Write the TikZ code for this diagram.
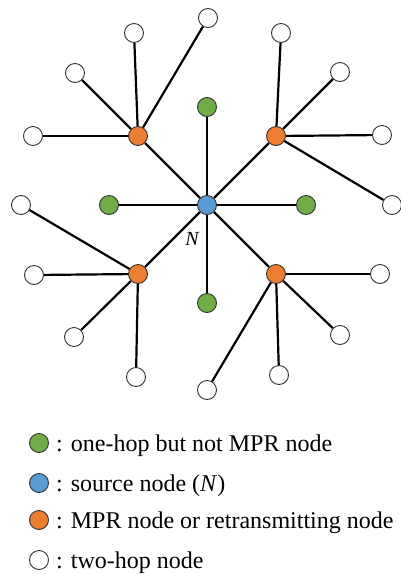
\documentclass[tikz,border=0pt]{standalone}
\usepackage{fontspec}
\setmainfont{Liberation Serif}
\newfontfamily\legfont{Liberation Serif}
\begin{document}
\begin{tikzpicture}[x=1pt,y=-1pt,
  nd/.style={circle,draw=black!80,line width=0.9pt,minimum size=19pt,inner sep=0pt},
  gnode/.style={nd,fill=greenc},
  bnode/.style={nd,fill=bluec},
  onode/.style={nd,fill=orangec},
  wnode/.style={nd,fill=white},
  edge/.style={line width=2.2pt,black},
  leg/.style={anchor=base west,inner sep=0pt,font=\legfont\fontsize{24}{28}\selectfont}]
\definecolor{greenc}{HTML}{70AD47}
\definecolor{bluec}{HTML}{5B9BD5}
\definecolor{orangec}{HTML}{ED7D31}
\useasboundingbox (0,0) rectangle (401,574);
% center and one-hop
\node[bnode] (c) at (207,205) {};
\node[gnode] (gt) at (207,107) {};
\node[gnode] (gl) at (109,205) {};
\node[gnode] (gr) at (306,205) {};
\node[gnode] (gb) at (207,303) {};
\node[onode] (oul) at (138,136) {};
\node[onode] (our) at (276,136) {};
\node[onode] (oll) at (138,274) {};
\node[onode] (olr) at (276,274) {};
% two-hop
\node[wnode] (w1) at (33,136) {};
\node[wnode] (w2) at (75,73) {};
\node[wnode] (w3) at (134,33) {};
\node[wnode] (w4) at (208,18) {};
\node[wnode] (w5) at (281,33) {};
\node[wnode] (w6) at (340,72) {};
\node[wnode] (w7) at (382,135) {};
\node[wnode] (w8) at (392,205) {};
\node[wnode] (w9) at (21,205) {};
\node[wnode] (w10) at (34,275) {};
\node[wnode] (w11) at (74,337) {};
\node[wnode] (w12) at (136,377) {};
\node[wnode] (w13) at (380,274) {};
\node[wnode] (w14) at (340,335) {};
\node[wnode] (w15) at (279,375) {};
\node[wnode] (w16) at (207,390) {};
% edges
\foreach \t in {gt,gl,gr,gb,oul,our,oll,olr} \draw[edge] (c) -- (\t);
\foreach \t in {w1,w2,w3,w4} \draw[edge] (oul) -- (\t);
\foreach \t in {w5,w6,w7,w8} \draw[edge] (our) -- (\t);
\foreach \t in {w9,w10,w11,w12} \draw[edge] (oll) -- (\t);
\foreach \t in {w13,w14,w15,w16} \draw[edge] (olr) -- (\t);
\node[font=\legfont\fontsize{20}{24}\selectfont\itshape,inner sep=0pt] (nlab) at (192,239) {N};
% legend
\node[gnode] (l1) at (39,443) {};
\node[bnode] (l2) at (39,483) {};
\node[onode] (l3) at (39,520) {};
\node[wnode] (l4) at (39,560) {};
\node[leg] (t1) at (56,451) {: one-hop but not MPR node};
\node[leg] (t2) at (56,491) {: source node (\textit{N})};
\node[leg] (t3) at (56,528) {: MPR node or retransmitting node};
\node[leg] (t4) at (56,568) {: two-hop node};
\end{tikzpicture}
\end{document}
